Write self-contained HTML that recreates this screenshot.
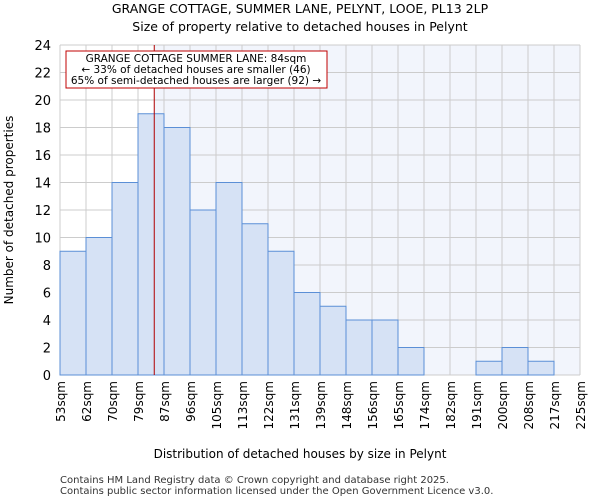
<!DOCTYPE html>
<html><head><meta charset="utf-8"><style>
body{margin:0;background:#fff;font-family:"DejaVu Sans","Liberation Sans",sans-serif;}
</style></head><body>
<svg width="600" height="500" xmlns="http://www.w3.org/2000/svg" font-family="DejaVu Sans, Liberation Sans, sans-serif">
<text x="300" y="13" text-anchor="middle" font-size="12.5">GRANGE COTTAGE, SUMMER LANE, PELYNT, LOOE, PL13 2LP</text>
<text x="300" y="31" text-anchor="middle" font-size="12.5">Size of property relative to detached houses in Pelynt</text>
<g id="plot"></g>
<text x="300" y="458" text-anchor="middle" font-size="12">Distribution of detached houses by size in Pelynt</text>
<text transform="translate(13,210) rotate(-90)" text-anchor="middle" font-size="12">Number of detached properties</text>
<text x="60" y="483" font-size="10" fill="#333">Contains HM Land Registry data © Crown copyright and database right 2025.</text>
<text x="60" y="494" font-size="10" fill="#333">Contains public sector information licensed under the Open Government Licence v3.0.</text>
</svg>
<script>
const binLabels=["53sqm","62sqm","70sqm","79sqm","87sqm","96sqm","105sqm","113sqm","122sqm","131sqm","139sqm","148sqm","156sqm","165sqm","174sqm","182sqm","191sqm","200sqm","208sqm","217sqm","225sqm"];
const counts=[9,10,14,19,18,12,14,11,9,6,5,4,4,2,0,0,1,2,1,0];
const yTicks=[0,2,4,6,8,10,12,14,16,18,20,22,24];
const markerValue=84;
const annotation=["GRANGE COTTAGE SUMMER LANE: 84sqm","← 33% of detached houses are smaller (46)","65% of semi-detached houses are larger (92) →"];
const binEdges=[53,62,70,79,87,96,105,113,122,131,139,148,156,165,174,182,191,200,208,217,225];
const L=60,R=580,T=45,B=375,yMax=24;
const NS="http://www.w3.org/2000/svg";
const g=document.getElementById('plot');
const bw=(R-L)/counts.length;
const xi=i=>L+i*bw;
const y=v=>B-(v/yMax)*(B-T);
function mk(t,a){const e=document.createElementNS(NS,t);for(const k in a)e.setAttribute(k,a[k]);g.appendChild(e);return e;}
let mi=0;for(let i=0;i<binEdges.length-1;i++){if(markerValue>=binEdges[i]&&markerValue<=binEdges[i+1]){mi=i+(markerValue-binEdges[i])/(binEdges[i+1]-binEdges[i]);break;}}
const mx=xi(mi);
let bg=mk('rect',{x:L,y:T,width:R-L,height:B-T,fill:'#fff'});


let bg2=mk('rect',{x:mx,y:T,width:R-mx,height:B-T,fill:'#f2f5fc'});


for(let i=0;i<=counts.length;i++){let l=mk('line',{x1:xi(i),x2:xi(i),y1:T,y2:B,stroke:'#ccc','stroke-width':1});

}
yTicks.forEach(v=>{let l=mk('line',{x1:L,x2:R,y1:y(v),y2:y(v),stroke:'#ccc','stroke-width':1});


let t=mk('text',{x:L-9,y:y(v)+5,'text-anchor':'end','font-size':13});t.textContent=v;

});
counts.forEach((c,i)=>{if(c<=0)return;let r=mk('rect',{x:xi(i),y:y(c),width:bw,height:B-y(c),fill:'#d6e2f5',stroke:'#5b8fd6','stroke-width':1});

});
binLabels.forEach((s,i)=>{let t=mk('text',{transform:`translate(${xi(i)+5},381) rotate(-90)`,'text-anchor':'end','font-size':12});t.textContent=s;

});
let ml=mk('line',{x1:mx,x2:mx,y1:T,y2:B,stroke:'#b00000','stroke-width':1});


let box=mk('rect',{x:66,y:51,width:261,height:37,fill:'#fff',stroke:'#c00000','stroke-width':1});


annotation.forEach((s,i)=>{let t=mk('text',{x:196,y:62+i*11,'text-anchor':'middle','font-size':10.5});t.textContent=s;

});
</script>
</body></html>
